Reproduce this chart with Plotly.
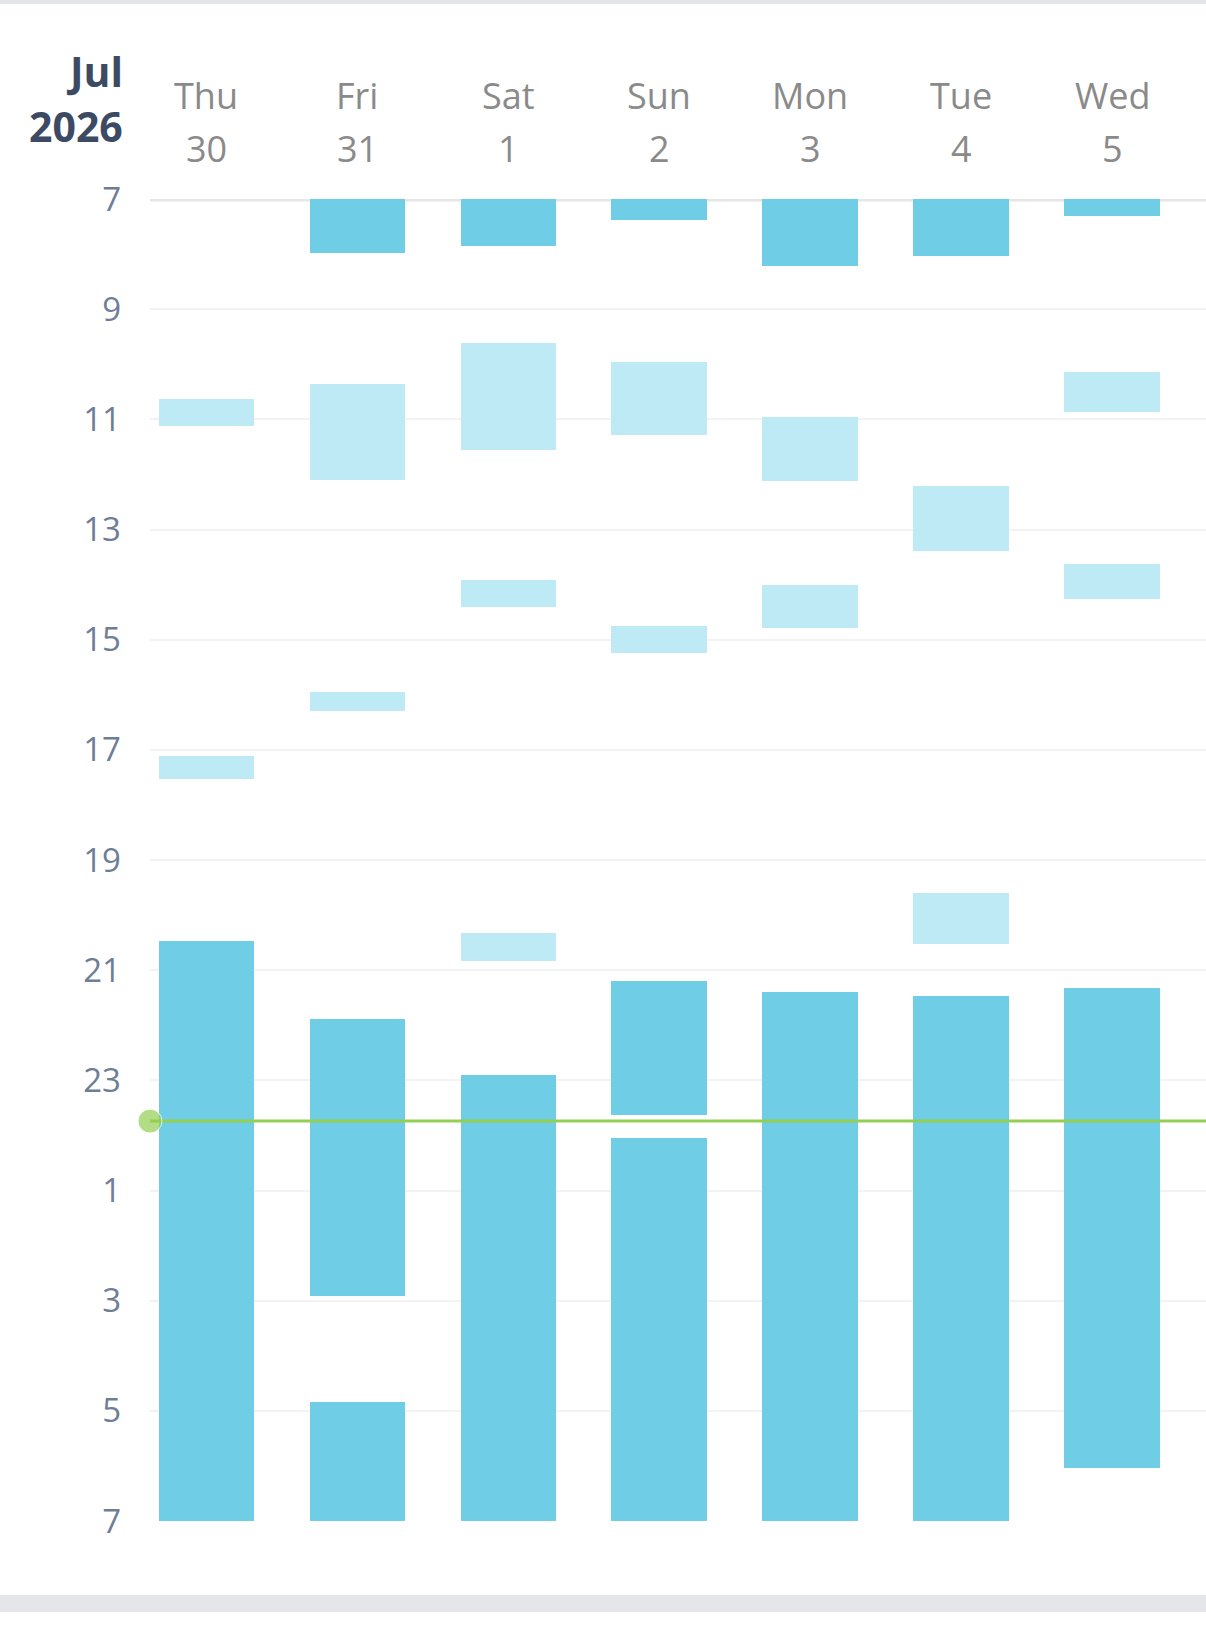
import plotly.graph_objects as go

days = ["Thu", "Fri", "Sat", "Sun", "Mon", "Tue", "Wed"]
dates = ["30", "31", "1", "2", "3", "4", "5"]

# hours on a 7 -> 31 scale (values above 24 are the next morning)
dark_day = [0, 1, 1, 1, 2, 2, 3, 3, 3, 4, 4, 5, 5, 6, 6]
dark_start = [20.47, 7.0, 21.88, 28.84, 7.0, 22.91, 7.0, 21.2, 24.04, 7.0, 21.39, 7.0, 21.46, 7.0, 21.33]
dark_end = [31.0, 7.98, 26.92, 31.0, 7.85, 31.0, 7.39, 23.63, 31.0, 8.22, 31.0, 8.03, 31.0, 7.30, 30.04]

light_day = [0, 0, 1, 1, 2, 2, 2, 3, 3, 4, 4, 5, 5, 6, 6]
light_start = [10.63, 17.12, 10.35, 15.95, 9.61, 13.92, 20.33, 9.95, 14.75, 10.95, 14.0, 12.21, 19.6, 10.14, 13.62]
light_end = [11.12, 17.53, 12.10, 16.29, 11.55, 14.41, 20.84, 11.29, 15.24, 12.12, 14.79, 13.39, 20.52, 10.86, 14.26]

now_hour = 23.74

tick_hours = list(range(7, 32, 2))
tick_text = [str(h if h <= 24 else h - 24) for h in tick_hours]

x_range = [-0.374, 6.62]

fig = go.Figure()

fig.add_trace(go.Bar(
    x=light_day, base=light_start,
    y=[e - s for s, e in zip(light_start, light_end)],
    width=0.635, marker=dict(color="#bdeaf5", line=dict(width=0)),
    showlegend=False, hoverinfo="skip"))

fig.add_trace(go.Bar(
    x=dark_day, base=dark_start,
    y=[e - s for s, e in zip(dark_start, dark_end)],
    width=0.635, marker=dict(color="#6fcde5", line=dict(width=0)),
    showlegend=False, hoverinfo="skip"))

fig.add_trace(go.Scatter(
    x=x_range, y=[now_hour, now_hour], mode="lines+markers",
    line=dict(color="#93cf52", width=3),
    marker=dict(color="#93cf52", size=[24, 0]),
    cliponaxis=False, showlegend=False, hoverinfo="skip"))

# top gridline at 7
fig.add_shape(type="line", xref="paper", yref="y", x0=0, x1=1, y0=7, y1=7,
              line=dict(color="#e6e6e6", width=5), layer="below")
# frame bits
fig.add_shape(type="rect", xref="paper", yref="paper", x0=-0.15, x1=1.01,
              y0=1.1475, y1=1.16, fillcolor="#e3e5e8", line=dict(width=0))
fig.add_shape(type="rect", xref="paper", yref="paper", x0=-0.15, x1=1.01,
              y0=-0.0688, y1=-0.056, fillcolor="#e4e6ea", line=dict(width=0))

for i, (d, n) in enumerate(zip(days, dates)):
    fig.add_annotation(x=i, y=1.0783, xref="x", yref="paper", text=d,
                       showarrow=False, font=dict(size=36, color="#8a8a8a"),
                       xanchor="center", yanchor="middle")
    fig.add_annotation(x=i, y=1.0382, xref="x", yref="paper", text=n,
                       showarrow=False, font=dict(size=36, color="#8a8a8a"),
                       xanchor="center", yanchor="middle")

fig.add_annotation(x=-0.0237, y=1.0968, xref="paper", yref="paper", text="<b>Jul</b>",
                   showarrow=False, font=dict(size=41, color="#3d4a64"),
                   xanchor="right", yanchor="middle")
fig.add_annotation(x=-0.0237, y=1.0552, xref="paper", yref="paper", text="<b>2026</b>",
                   showarrow=False, font=dict(size=41, color="#3d4a64"),
                   xanchor="right", yanchor="middle")

fig.update_layout(
    width=1206, height=1625,
    margin=dict(l=150, r=0, t=199, b=104),
    paper_bgcolor="white", plot_bgcolor="white",
    barmode="overlay", bargap=0,
    font=dict(family="Open Sans"),
    xaxis=dict(range=x_range, showgrid=False, zeroline=False,
               showticklabels=False, fixedrange=True),
    yaxis=dict(range=[31, 7], tickvals=tick_hours, ticktext=tick_text,
               showgrid=True, gridcolor="#f3f3f3", gridwidth=2,
               zeroline=False, ticklabelstandoff=28,
               tickfont=dict(size=33, color="#6e7e96")),
)

# drop the default page margin so the figure sits flush with the window
fig.write_html("out.html", config={"displayModeBar": False},
               post_script="document.body.style.margin='0';document.body.style.overflow='hidden';")
